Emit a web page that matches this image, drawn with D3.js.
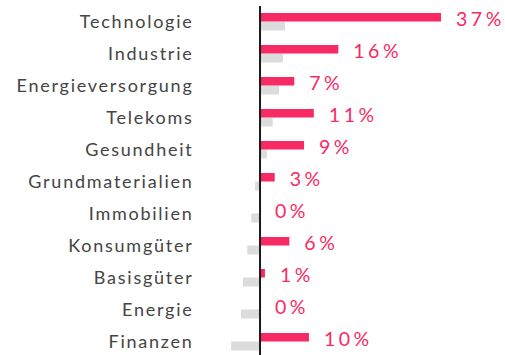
<!DOCTYPE html>
<html>
<head>
<meta charset="utf-8">
<script src="https://cdn.jsdelivr.net/npm/d3@7"></script>
<style>
  html, body { margin: 0; padding: 0; background: #fff; }
  svg { display: block; }
</style>
</head>
<body>
<svg id="chart" width="505" height="355"></svg>
<script>
// Sector weights: fund (pink) vs. relative/benchmark (grey), in percent
const sectors = ["Technologie", "Industrie", "Energieversorgung", "Telekoms", "Gesundheit",
  "Grundmaterialien", "Immobilien", "Konsumgüter", "Basisgüter", "Energie", "Finanzen"];
const fundWeights = [37, 16, 7, 11, 9, 3, 0, 6, 1, 0, 10];
const benchWeights = [5.1, 4.7, 3.9, 2.6, 1.4, -1.0, -1.8, -2.6, -3.5, -3.9, -5.9];

const pink = "#f72a63";
const grey = "#dcdcdc";

const svg = d3.select("#chart");

const x = d3.scaleLinear().domain([-10, 40]).range([211.1, 455.7]);
const y = d3.scaleBand().domain(sectors).range([13, 365]).paddingInner(0).paddingOuter(0);

const pinkH = 8.5;
const greyH = 9;

const rows = svg.selectAll("g.row").data(sectors).join("g").attr("class", "row");

// benchmark bars
rows.append("rect")
  .attr("x", (d, i) => Math.min(x(0), x(benchWeights[i])))
  .attr("y", d => y(d) + pinkH)
  .attr("width", (d, i) => Math.abs(x(benchWeights[i]) - x(0)))
  .attr("height", greyH)
  .attr("fill", grey);

// fund bars
rows.append("rect")
  .attr("x", x(0))
  .attr("y", d => y(d))
  .attr("width", (d, i) => x(fundWeights[i]) - x(0))
  .attr("height", pinkH)
  .attr("fill", pink);

// value labels
rows.append("text")
  .attr("x", (d, i) => x(fundWeights[i]) + 15)
  .attr("y", d => y(d) + 13)
  .attr("font-family", "Lato, sans-serif")
  .attr("font-size", 19.5)
  .attr("letter-spacing", 3.5)
  .attr("fill", pink)
  .text((d, i) => fundWeights[i] + "%");

// category labels
rows.append("text")
  .attr("x", 193.5)
  .attr("y", d => y(d) + 15.3)
  .attr("text-anchor", "end")
  .attr("font-family", "Lato, sans-serif")
  .attr("font-size", 18)
  .attr("letter-spacing", 1.75)
  .attr("fill", "#444")
  .text(d => d);

// zero line
svg.append("line")
  .attr("x1", x(0)).attr("x2", x(0))
  .attr("y1", 6).attr("y2", 355)
  .attr("stroke", "#1a1a1a")
  .attr("stroke-width", 2);
</script>
</body>
</html>
